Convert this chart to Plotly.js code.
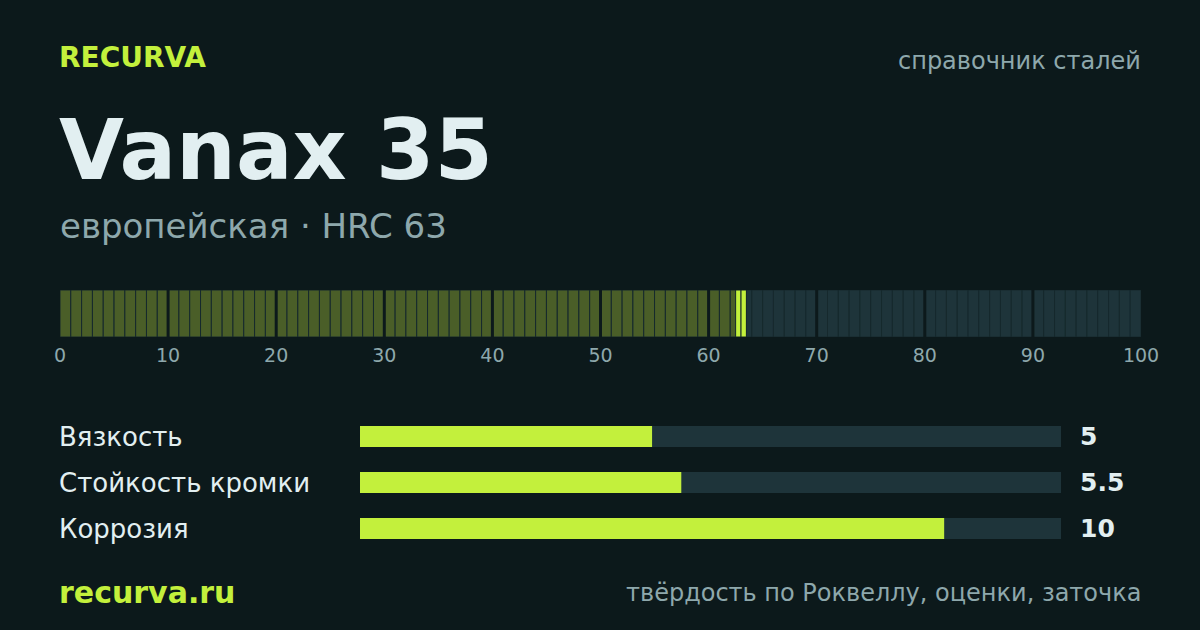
<!DOCTYPE html>
<html>
<head>
<meta charset="utf-8">
<script src="https://cdn.plot.ly/plotly-3.0.1.min.js"></script>
<style>html,body{margin:0;padding:0;background:#0c191b;}#chart{width:1200px;height:630px;}</style>
</head>
<body>
<div id="chart"></div>
<script>
// ---- data ----
const brand = "RECURVA";
const site = "recurva.ru";
const steelName = "Vanax 35";
const steelOrigin = "европейская";
const hrc = 63;
const hrcHalfRange = 0.5;
const scaleMin = 0;
const scaleMax = 100;
const scaleTicks = [0, 10, 20, 30, 40, 50, 60, 70, 80, 90, 100];
const categories = ["Вязкость", "Стойкость кромки", "Коррозия"];
const ratings = [5, 5.5, 10];
const ratingMax = 12;
const topRight = "справочник сталей";
const footerRight = "твёрдость по Роквеллу, оценки, заточка";

// ---- styles ----
const BG = "#0c191b";
const LIME = "#c3f03c";
const OLIVE = "#4a5e28";
const TRACK = "#1e343a";
const GAP = "#16292d";
const MUTED = "#8ea8ac";
const LIGHT = "#e2eff1";
const FONT = "DejaVu Sans, Verdana, sans-serif";
const PAD = 3; // annotation inner offset in px

// build cell edges for the HRC scale
let edges = [];
for (let v = scaleMin; v <= scaleMax; v++) edges.push(v);
edges.push(hrc - hrcHalfRange, hrc + hrcHalfRange);
edges = Array.from(new Set(edges)).sort((a, b) => a - b);
const cx = [], cw = [], cy = [], cc = [];
for (let i = 0; i < edges.length - 1; i++) {
  const a = edges[i], b = edges[i + 1];
  cx.push((a + b) / 2); cw.push(b - a); cy.push(1);
  let col;
  if (b <= hrc - hrcHalfRange) col = OLIVE;
  else if (a >= hrc - hrcHalfRange && b <= hrc + hrcHalfRange) col = LIME;
  else col = TRACK;
  cc.push(col);
}

const traces = [
  {
    type: "bar", x: cx, y: cy, width: cw, base: 0,
    marker: {color: cc, line: {color: GAP, width: 1}},
    xaxis: "x", yaxis: "y", hoverinfo: "skip", showlegend: false
  },
  {
    type: "bar", orientation: "h", y: categories, x: categories.map(() => ratingMax),
    width: 0.4565, marker: {color: TRACK, line: {width: 0}},
    xaxis: "x2", yaxis: "y2", hoverinfo: "skip", showlegend: false
  },
  {
    type: "bar", orientation: "h", y: categories, x: ratings,
    width: 0.4565, marker: {color: LIME, line: {width: 0}},
    xaxis: "x2", yaxis: "y2", hoverinfo: "skip", showlegend: false
  }
];

const shapes = scaleTicks.filter(t => t > scaleMin && t < scaleMax).map(t => ({
  type: "line", xref: "x", yref: "y", x0: t, x1: t, y0: -0.02, y1: 1.02,
  line: {color: BG, width: 3}, layer: "above"
}));

const L = px => (px - PAD) / 1200;
const R = px => (px + PAD) / 1200;
const Y = px => 1 - px / 630;

const annotations = [
  {text: "<b>" + brand + "</b>", x: L(60), y: Y(57), xref: "paper", yref: "paper",
   xanchor: "left", yanchor: "middle", showarrow: false, font: {family: FONT, size: 28, color: LIME}},
  {text: topRight, x: R(1140), y: Y(61), xref: "paper", yref: "paper",
   xanchor: "right", yanchor: "middle", showarrow: false, font: {family: FONT, size: 24, color: MUTED}},
  {text: "<b>" + steelName + "</b>", x: L(60), y: Y(150), xref: "paper", yref: "paper",
   xanchor: "left", yanchor: "middle", showarrow: false, font: {family: FONT, size: 84, color: LIGHT}},
  {text: steelOrigin + " · HRC " + hrc, x: L(61), y: Y(226), xref: "paper", yref: "paper",
   xanchor: "left", yanchor: "middle", showarrow: false, font: {family: FONT, size: 34, color: MUTED}},
  {text: "<b>" + site + "</b>", x: L(60), y: Y(592), xref: "paper", yref: "paper",
   xanchor: "left", yanchor: "middle", showarrow: false, font: {family: FONT, size: 30, color: LIME}},
  {text: footerRight, x: R(1140), y: Y(593), xref: "paper", yref: "paper",
   xanchor: "right", yanchor: "middle", showarrow: false, font: {family: FONT, size: 24, color: MUTED}}
];
categories.forEach((c, i) => {
  annotations.push({text: c, x: L(60), y: c, xref: "paper", yref: "y2",
    xanchor: "left", yanchor: "middle", showarrow: false, font: {family: FONT, size: 26, color: LIGHT}});
  annotations.push({text: "<b>" + ratings[i] + "</b>", x: L(1081), y: c, xref: "paper", yref: "y2",
    xanchor: "left", yanchor: "middle", showarrow: false, font: {family: FONT, size: 25, color: LIGHT}});
});

const layout = {
  width: 1200, height: 630,
  margin: {l: 0, r: 0, t: 0, b: 0},
  paper_bgcolor: BG, plot_bgcolor: BG,
  barmode: "overlay",
  showlegend: false,
  xaxis: {
    domain: [60/1200, 1141/1200], range: [scaleMin, scaleMax], anchor: "y",
    tickvals: scaleTicks, ticktext: scaleTicks.map(String),
    ticks: "outside", ticklen: 1, tickcolor: BG,
    tickfont: {family: FONT, size: 19, color: MUTED},
    showgrid: false, zeroline: false, showline: false, fixedrange: true
  },
  yaxis: {
    domain: [1 - 337/630, 1 - 290/630], range: [0, 1], anchor: "x",
    showticklabels: false, showgrid: false, zeroline: false, showline: false, ticks: ""
  },
  xaxis2: {
    domain: [360/1200, 1061/1200], range: [0, ratingMax], anchor: "y2",
    showticklabels: false, showgrid: false, zeroline: false, showline: false, ticks: ""
  },
  yaxis2: {
    domain: [1 - 551.5/630, 1 - 413.5/630], anchor: "x2", type: "category",
    categoryorder: "array", categoryarray: categories, range: [2.5, -0.5],
    showticklabels: false, showgrid: false, zeroline: false, showline: false, ticks: ""
  },
  shapes: shapes,
  annotations: annotations
};

Plotly.newPlot("chart", traces, layout, {staticPlot: true, displayModeBar: false});
</script>
</body>
</html>
